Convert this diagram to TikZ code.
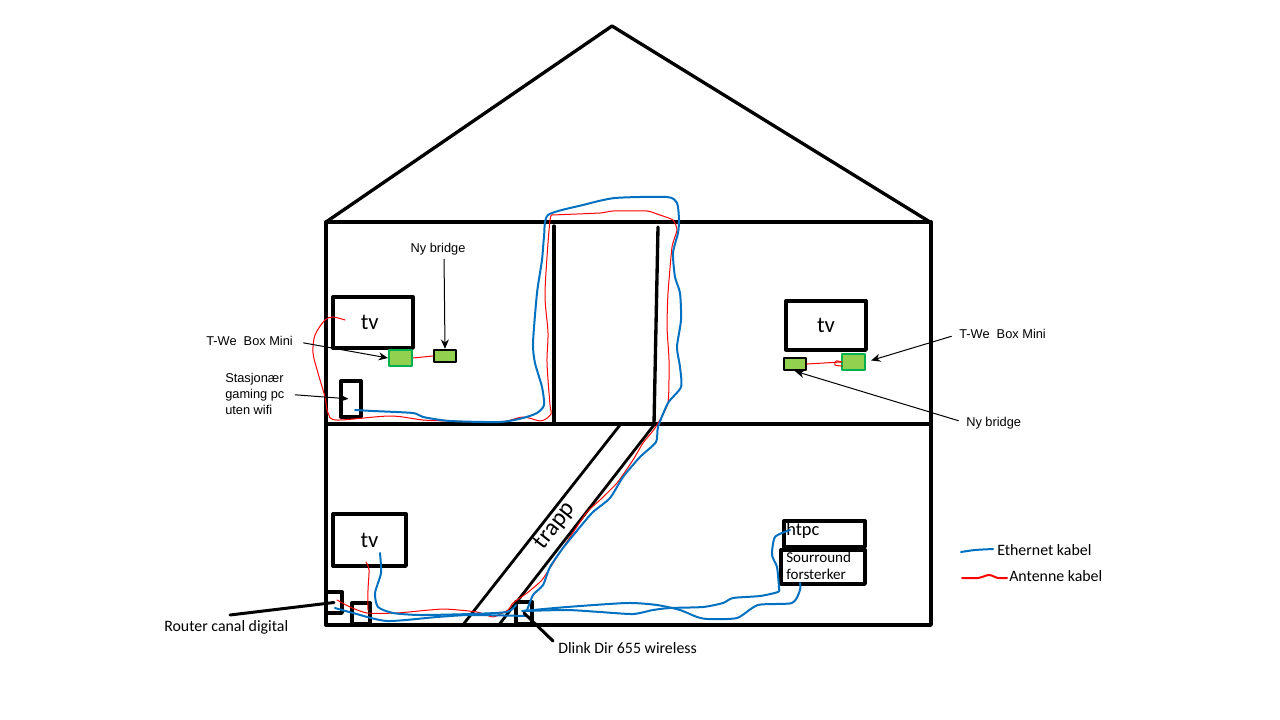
\documentclass[tikz,border=0pt]{standalone}
\usepackage{fontspec}
\setmainfont{Carlito}
\newfontfamily\arialfont{Liberation Sans}
\usetikzlibrary{arrows.meta}
\definecolor{ethblue}{HTML}{0070C0}
\definecolor{boxgreen}{HTML}{92D050}
\definecolor{rimgreen}{HTML}{00B050}
\begin{document}
\begin{tikzpicture}[x=.75pt,y=-.75pt,>={Stealth[length=7pt,width=6pt]},line cap=round,line join=round,
    wall/.style={line width=2.5pt},
    unit/.style={draw,line width=2.5pt,inner sep=0pt},
    tvset/.style={unit,minimum width=60pt,font=\fontsize{17}{17}\selectfont},
    twebox/.style={draw=rimgreen,fill=boxgreen,line width=1.5pt,minimum width=17.25pt,minimum height=12pt,inner sep=0pt},
    bridgebox/.style={unit,line width=1.8pt,fill=boxgreen,minimum width=16.5pt,minimum height=9pt},
    ethcable/.style={ethblue,line width=1.5pt},
    antcable/.style={red,line width=.75pt},
    lead/.style={->,line width=.75pt},
    heavylead/.style={line width=2.25pt},
    smalltext/.style={font=\arialfont\fontsize{9.6}{12.3}\selectfont,inner sep=0pt},
    bigtext/.style={font=\fontsize{11.9}{14}\selectfont,inner sep=0pt}]
  \useasboundingbox (0,0) rectangle (1280,720);
  % Outline of the house.
  \draw[wall] (326,222)--(612,26)--(930,222);
  \draw[wall] (326,222) rectangle (931,625);
  \draw[wall] (326,424)--(931,424);
  \draw[wall] (554,226)--(554,424);
  \draw[wall] (658,227)--(654,424);
  \draw[wall,line width=2.1pt] (620,425)--(462,626);
  \draw[wall,line width=2.1pt] (654,425)--(498,626);
  \node[font=\fontsize{18}{18}\selectfont,rotate=52,inner sep=0pt] (trapp) at (555,526) {trapp};
  % Boxes in the rooms.
  \node[tvset,minimum height=38.25pt] (tvleft) at (373,322.5) {\hspace{-5pt}tv};
  \node[tvset,minimum height=36.75pt] (tvright) at (826,325.5) {tv};
  \node[tvset,minimum width=54.75pt,minimum height=39pt] (tvlower) at (369.5,540) {tv};
  \node[twebox] (tweleft) at (400.5,358) {};
  \node[twebox] (tweright) at (853.5,362) {};
  \node[bridgebox] (bridgeleft) at (445,356) {};
  \node[bridgebox] (bridgeright) at (795,364) {};
  \node[unit,minimum width=15pt,minimum height=27pt] (gamingpc) at (351,399) {};
  \node[unit,minimum width=12pt,minimum height=15.75pt] (router) at (334,602.5) {};
  \node[unit,minimum width=13.5pt,minimum height=15.75pt] (decoder) at (361,613.5) {};
  \node[unit,minimum width=12pt,minimum height=16.5pt] (dlink) at (524,613) {};
  \node[unit,minimum width=60.75pt,minimum height=19.5pt] (htpc) at (824.5,534) {};
  \node[unit,minimum width=63pt,minimum height=25.5pt] (surround) at (823,567) {};
  \node[font=\fontsize{13.8}{13.8}\selectfont,anchor=west,inner sep=0pt] (htpctext) at (786,531) {htpc};
  \node[font=\fontsize{11.3}{12.75}\selectfont,anchor=west,align=left,inner sep=0pt] (surroundtext) at (786,566) {Sourround\\forsterker};
  % Antenna cables.
  \draw[antcable] plot[smooth] coordinates {(345,320) (333,317) (325,320) (315,335) (313,353) (318,373) (325,397) (328,413) (337,420) (390,416) (423,420) (450,421) (500,422) (523,417) (541,421) (551,414) (550,405) (547,363) (548,333) (545,297) (547,257) (550,220) (552,215)};
  \draw[antcable] plot[smooth,tension=.3] coordinates {(552,215) (600,213) (613,211) (647,211) (657,214) (673,220) (677,230) (672,247) (668,293) (667,327) (669,360) (668,403) (655,428) (643,443) (633,460) (617,483) (600,500) (587,512) (570,537) (557,557) (542,580) (527,593) (513,603) (508,610) (493,617) (477,612) (443,609) (397,613) (367,613) (350,607) (337,600)};
  \draw[antcable] plot[smooth] coordinates {(366,562) (369,570) (368,590) (368,610)};
  \draw[antcable] (tweleft.east)--(bridgeleft.west);
  \draw[antcable] (bridgeright.east)--(tweright.west);
  \draw[antcable] plot[smooth] coordinates {(842,362) (836,361) (835,365) (842,366)};
  % Ethernet cables.
  \draw[ethcable] plot[smooth,tension=.4] coordinates {(355,410) (373,411) (413,413) (423,417) (450,421) (500,422) (523,418) (537,413) (544,405) (542,387) (535,363) (533,343) (537,293) (542,260) (544,237) (548,215) (583,205) (615,198) (667,197) (677,203) (679,220) (678,233) (673,253) (675,277) (680,293) (681,320) (677,347) (680,367) (681,387) (668,403) (658,427) (656,442) (640,457) (623,477) (610,498) (593,512) (580,527) (563,548) (550,567) (543,585) (533,595) (527,610) (525,611)};
  \draw[ethcable] plot[smooth,tension=.4] coordinates {(525,611) (567,610) (600,612) (633,614) (653,610) (670,608) (703,607) (723,603) (733,598) (760,596) (778,592) (779,588) (777,567) (772,555) (775,537) (790,530)};
  \draw[ethcable] plot[smooth,tension=.4] coordinates {(522,611) (567,607) (627,603) (657,605) (680,610) (697,617) (708,619) (737,618) (758,605) (792,603) (800,590) (800,583)};
  \draw[ethcable] plot[smooth,tension=.4] coordinates {(380,553) (381,573) (375,593) (378,607) (393,613) (420,615) (470,614) (507,612) (516,605)};
  \draw[ethcable] plot[smooth,tension=.4] coordinates {(335,608) (353,613) (387,621) (437,617) (470,615) (527,616)};
  % Labels and their arrows.
  \node[smalltext,anchor=west] (twelabelleft) at (206,341) {T-We\ \ Box Mini};
  \node[smalltext,anchor=west] (twelabelright) at (959,334) {T-We\ \ Box Mini};
  \node[smalltext,anchor=center] (nylabelleft) at (438,249) {Ny bridge};
  \node[smalltext,anchor=west] (nylabelright) at (966,423) {Ny bridge};
  \node[smalltext,anchor=west,align=left] (gamingtext) at (225,394) {Stasjonær\\gaming pc\\uten wifi};
  \draw[lead,shorten <=8pt] (twelabelleft.east)--(tweleft.west);
  \draw[lead,shorten <=3pt] (nylabelleft.south)++(6,0)--(bridgeleft.north);
  \draw[lead,shorten <=6pt,shorten >=4pt] (twelabelright.west)--(tweright.east);
  \draw[lead,shorten <=6pt] (nylabelright.west)--(bridgeright.south);
  \draw[lead,shorten <=8pt,shorten >=2pt] (gamingtext.east)--(gamingpc.center);
  \coordinate (routertail) at (230,615);
  \coordinate (dlinktail) at (553,641);
  \draw[heavylead] (routertail)--(router.center);
  \draw[heavylead] (dlink.center)--(dlinktail);
  \node[bigtext,anchor=west] (routerlabel) at (164,627) {Router canal digital};
  \node[bigtext,anchor=west] (dlinklabel) at (558,648) {Dlink Dir 655 wireless};
  % Legend.
  \draw[ethcable] plot[smooth] coordinates {(961,552) (975,550) (993,549)};
  \draw[red,line width=1.5pt] plot[smooth] coordinates {(962,578) (978,578) (989,575) (998,578) (1007,578)};
  \node[bigtext,anchor=west] (ethlabel) at (997,550) {Ethernet kabel};
  \node[bigtext,anchor=west] (antlabel) at (1009,576) {Antenne kabel};
\end{tikzpicture}
\end{document}
